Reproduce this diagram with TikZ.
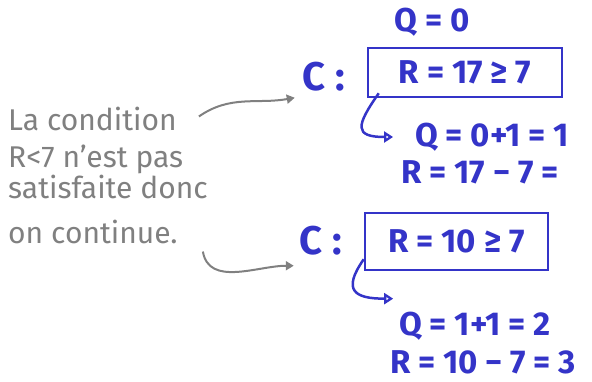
\documentclass[tikz,border=0pt]{standalone}
\usepackage{fontspec}
\setmainfont{Fira Sans}
\definecolor{inkblue}{RGB}{52, 52, 200}
\definecolor{inkgrey}{RGB}{128, 128, 128}
\usetikzlibrary{arrows.meta, positioning}

\begin{document}
\begin{tikzpicture}[x=1pt, y=1pt,
  every node/.style={inner sep=0pt},
  inktext/.style={text=inkblue, font=\fontsize{33}{38}\selectfont\bfseries},
  bigink/.style={text=inkblue, font=\fontsize{40}{44}\selectfont\bfseries},
  notetext/.style={text=inkgrey, font=\fontsize{30}{34}\selectfont, anchor=base west},
  testbox/.style={draw=inkblue, line width=2.5pt, text=inkblue, font=\fontsize{33}{38}\selectfont\bfseries},
  inkarrow/.style={draw=inkblue, line width=2.5pt, -{Triangle[open, length=9pt, width=11pt]}},
  notearrow/.style={draw=inkgrey, line width=2pt, -{Triangle[length=8pt, width=9pt]}}]
  \useasboundingbox (0,0) rectangle (592,-381);
  % note on the left
  \node[notetext] (l1) at (8,-130) {La condition};
  \node[notetext] (l2) at (8,-167) {R<7 n'est pas};
  \node[notetext] (l3) at (8,-198) {satisfaite donc};
  \node[notetext] (l4) at (8,-243) {on continue.};
  % first test
  \node[inktext] (q0) at (432,-22) {Q = 0};
  \node[bigink] (c1) at (324,-77) {C :};
  \node[testbox, minimum width=194pt, minimum height=49pt] (box1) at (465,-72.5) {R = 17 ≥ 7};
  \node[inktext] (q1) at (492,-137) {Q = 0+1 = 1};
  \node[inktext] (r1) at (480,-172) {R = 17 − 7 =};
  % second test
  \node[bigink] (c2) at (321,-241) {C :};
  \node[testbox, minimum width=183pt, minimum height=57pt] (box2) at (456.5,-241.5) {R = 10 ≥ 7};
  \node[inktext] (q2) at (475,-326) {Q = 1+1 = 2};
  \node[inktext] (r2) at (483,-362) {R = 10 − 7 = 3};
  % arrows
  \draw[notearrow] ([xshift=22pt,yshift=2pt]l1.east) to[out=35, in=190] ([xshift=-8pt,yshift=-6pt]c1.south west);
  \draw[notearrow] ([xshift=25pt,yshift=-8pt]l4.south east) to[out=-80, in=180] ([xshift=-6pt,yshift=-10pt]c2.south west);
  \draw[inkarrow] ([xshift=12pt,yshift=5pt]box1.south west) to[out=235, in=180, looseness=2.2] ([xshift=-22pt]q1.west);
  \draw[inkarrow] ([yshift=12pt]box2.south west) to[out=235, in=180, looseness=2] ([xshift=-6pt,yshift=13pt]q2.north west);
\end{tikzpicture}
\end{document}
